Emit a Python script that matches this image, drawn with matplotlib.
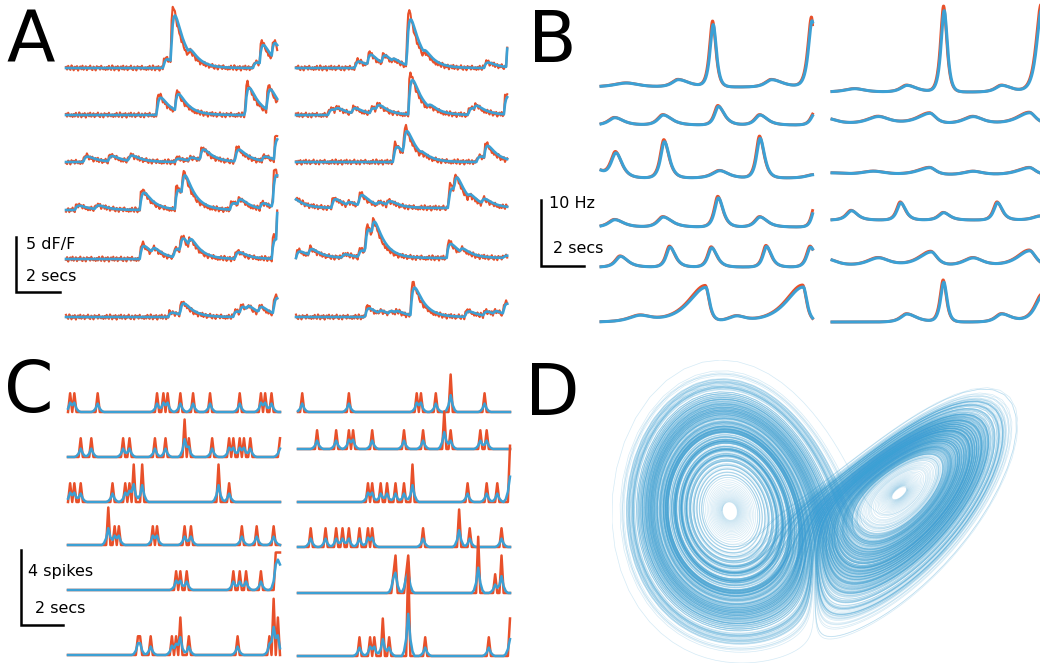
import numpy as np
import matplotlib
matplotlib.use('Agg')
import matplotlib.pyplot as plt
from matplotlib.collections import LineCollection

ORANGE = '#e8502a'
BLUE = '#3ca0d4'

# ---- panel A: calcium events per row, (time s, size dF/F) ----
a_left_events = [
    [(4.42, 0.8), (4.77, 4.4), (5.56, 0.5), (8.5, 0.5), (8.8, 1.8), (9.35, 1.5)],
    [(4.12, 1.6), (4.95, 1.6), (8.14, 2.5), (9.12, 2.0)],
    [(0.79, 0.5), (1.92, 0.5), (2.83, 0.5), (4.95, 0.3), (5.56, 0.3), (6.09, 1.0),
     (7.68, 1.1), (8.9, 0.4), (9.45, 1.9)],
    [(0.41, 0.4), (1.32, 0.35), (3.36, 1.6), (4.95, 1.8), (5.26, 2.0), (7.45, 0.6),
     (7.79, 0.6), (8.82, 0.5), (9.39, 3.0)],
    [(3.36, 1.2), (3.89, 0.5), (4.88, 0.8), (5.18, 1.3), (5.56, 0.8), (7.68, 0.6),
     (9.35, 1.8), (9.58, 2.5)],
    [(4.65, 0.4), (5.18, 1.1), (7.6, 0.5), (7.9, 0.6), (8.2, 0.4), (8.74, 0.6),
     (9.42, 1.5), (9.65, 3.0)],
]
a_right_events = [
    [(2.68, 0.6), (3.24, 1.0), (3.89, 0.8), (4.35, 0.3), (5.03, 4.3), (5.79, 0.4),
     (8.55, 0.5), (9.58, 1.7)],
    [(1.47, 0.5), (1.77, 0.3), (2.53, 0.5), (3.36, 0.5), (3.64, 0.5), (5.11, 3.2),
     (6.0, 0.3), (7.83, 0.6), (8.09, 0.4), (9.45, 1.6)],
    [(4.42, 1.4), (4.88, 2.2), (5.64, 0.2), (8.21, 0.5), (8.55, 1.2)],
    [(-0.3, 0.8), (1.62, 0.8), (2.3, 0.3), (2.83, 1.0), (3.67, 0.3), (4.12, 0.4),
     (6.92, 1.8), (7.18, 1.5), (7.83, 0.4), (8.44, 0.5)],
    [(0.0, 0.6), (0.56, 0.6), (2.08, 0.3), (2.83, 0.6), (3.14, 2.2), (3.44, 1.6),
     (6.85, 1.3), (7.45, 0.4), (9.42, 0.2)],
    [(3.14, 0.8), (3.74, 0.3), (4.2, 0.3), (4.5, 0.2), (5.21, 2.6), (7.68, 0.5),
     (8.52, 0.4), (8.97, 0.3), (9.42, 1.0), (9.65, 2.0)],
]
# measurement wiggle of the raw dF/F trace
a_jitter = [0.12, -0.18, 0.25, -0.05, -0.22, 0.3, 0.08, -0.27, 0.15, -0.1, 0.22,
            -0.3, 0.05, 0.18, -0.15, 0.27, -0.2, 0.02, 0.2, -0.25, 0.1, -0.08,
            0.28, -0.12, -0.24, 0.16, 0.04, -0.28, 0.21, -0.02, 0.13, -0.19,
            0.26, -0.07, -0.16, 0.09, -0.23]

# ---- panel B: firing-rate bumps per row, (time s, height Hz, rise s, fall s) ----
b_left_bumps = [
    [(1.19, 0.6, 0.5, 0.5), (3.6, 1.1, 0.25, 0.45), (5.22, 9.4, 0.13, 0.13),
     (7.94, 1.1, 0.25, 0.45), (9.82, 10.0, 0.15, 0.1)],
    [(0.65, 1.1, 0.25, 0.35), (2.9, 1.5, 0.22, 0.35), (5.46, 2.8, 0.15, 0.25),
     (7.4, 1.5, 0.2, 0.3), (9.95, 1.8, 0.15, 0.1)],
    [(-0.3, 1.5, 0.3, 0.3), (0.7, 3.7, 0.2, 0.25), (2.95, 5.5, 0.15, 0.2),
     (5.53, 1.1, 0.3, 0.35), (7.4, 6.0, 0.14, 0.18), (9.9, 0.5, 0.3, 0.3)],
    [(0.65, 1.1, 0.25, 0.35), (2.9, 1.5, 0.22, 0.35), (5.46, 4.4, 0.15, 0.2),
     (7.4, 1.5, 0.2, 0.3), (9.95, 2.9, 0.12, 0.1)],
    [(0.91, 1.6, 0.2, 0.3), (3.21, 3.0, 0.15, 0.22), (5.15, 2.9, 0.15, 0.22),
     (7.7, 3.1, 0.14, 0.2), (9.75, 3.0, 0.15, 0.2)],
    [(1.81, 0.9, 0.45, 0.45), (4.88, 5.2, 0.7, 0.15), (6.31, 0.8, 0.35, 0.35),
     (9.41, 5.3, 0.7, 0.15)],
]
b_right_bumps = [
    [(1.07, 0.5, 0.4, 0.4), (3.49, 1.0, 0.25, 0.4), (5.22, 12.3, 0.13, 0.13),
     (7.9, 1.0, 0.25, 0.4), (9.75, 12.5, 0.2, 0.1)],
    [(-0.2, 0.8, 0.4, 0.4), (2.16, 1.1, 0.45, 0.45), (4.56, 1.6, 0.5, 0.25),
     (6.57, 1.1, 0.4, 0.4), (9.2, 1.7, 0.5, 0.25)],
    [(0.0, 0.3, 0.5, 0.5), (1.94, 0.55, 0.5, 0.5), (4.56, 1.1, 0.5, 0.25),
     (6.57, 0.55, 0.4, 0.4), (9.2, 1.1, 0.5, 0.25)],
    [(0.91, 1.4, 0.2, 0.25), (3.2, 2.6, 0.15, 0.2), (5.2, 1.1, 0.2, 0.25),
     (7.7, 2.6, 0.15, 0.2), (9.7, 0.6, 0.3, 0.3)],
    [(-0.2, 1.0, 0.4, 0.4), (2.16, 1.2, 0.45, 0.45), (4.62, 2.1, 0.5, 0.25),
     (6.57, 1.2, 0.4, 0.4), (9.2, 2.3, 0.5, 0.25)],
    [(3.49, 1.2, 0.25, 0.4), (5.2, 6.0, 0.13, 0.13), (7.9, 1.2, 0.25, 0.4),
     (9.8, 4.0, 0.3, 0.15)],
]

# ---- panel C: spike times per row (s), repeated time = several spikes in a bin ----
c_left_spikes = [
    [0.08, 0.27, 1.42, 4.25, 4.49, 4.72, 5.35, 5.87, 6.66, 8.14, 9.13, 9.34, 9.56],
    [0.55, 1.15, 2.63, 2.88, 4.14, 4.65, 5.53, 5.53, 5.72, 6.82, 7.56, 7.76, 8.14,
     8.35, 8.58, 9.97],
    [0.08, 0.31, 0.63, 2.13, 2.72, 2.88, 3.15, 3.15, 3.54, 3.54, 7.09, 7.09, 7.64],
    [1.89, 1.89, 2.2, 2.44, 4.02, 4.25, 5.51, 5.83, 8.24, 8.87, 9.72],
    [5.12, 5.35, 5.59, 7.75, 8.14, 8.39, 9.06, 9.8, 9.8, 9.9, 9.9, 10.0, 10.0],
    [3.3, 3.4, 3.94, 4.93, 5.12, 5.35, 5.35, 5.72, 7.95, 9.53, 9.72, 9.72, 9.72,
     9.92, 9.92],
]
c_right_spikes = [
    [0.16, 2.44, 5.56, 5.75, 6.46, 7.24, 7.24, 8.77],
    [0.94, 1.84, 2.44, 2.63, 3.46, 4.96, 5.86, 6.93, 6.93, 7.24, 8.55, 8.87],
    [3.34, 3.54, 3.86, 4.25, 4.65, 5.04, 5.43, 5.43, 7.95, 8.87, 9.45, 9.97, 9.97,
     9.97],
    [0.55, 1.26, 1.84, 2.13, 2.36, 2.91, 3.26, 3.46, 5.87, 7.56, 7.56, 8.14, 9.56],
    [4.46, 4.65, 4.65, 5.09, 5.24, 5.24, 8.5, 8.5, 8.5, 9.29, 9.56, 9.56],
    [2.87, 3.35, 3.62, 4.05, 4.05, 4.33, 5.24, 5.24, 5.24, 5.24, 5.24, 5.95, 8.98,
     9.97, 9.97],
]
c_smooth = [0.05, 0.18, 0.45, 0.18, 0.05]

# ---- panel D: Lorenz system, start points and viewing angle ----
sigma, rho, beta = 10.0, 28.0, 8.0 / 3.0
d_starts = [[1.0, 1.0, 20.0], [9.3, 9.3, 27.0], [-9.3, -9.3, 27.0]]
d_steps = [60000, 3500, 3500]
view_azim, view_elev = 125, 35

# ---- layout (pixels of the 1040 x 663 figure) ----
W, H = 1040, 663
a_base_left = [68, 115, 162, 210, 259, 317]
a_base_right = [68, 115, 162, 208, 258, 317]
b_base_left = [87, 125, 178, 227, 267, 322]
b_base_right = [92, 124, 175, 220, 266, 322]
c_base_left = [412, 457, 502, 545, 590, 655]
c_base_right = [412, 449, 502, 547, 593, 656]

fig = plt.figure(figsize=(10.4, 6.63), dpi=100)


def trace_axes(x0, base, T, px_sec, px_unit):
    ax = fig.add_axes([x0 / W, 1 - base / H, T * px_sec / W, px_unit / H])
    ax.set_xlim(0, T)
    ax.set_ylim(0, 1)
    ax.axis('off')
    return ax


def scale_bar(x0, y0, px_sec, px_unit, height, ylabel, ytxt, xtxt):
    ax = trace_axes(x0, y0, 2, px_sec, px_unit)
    ax.plot([0, 0, 2], [height, 0, 0], color='black', lw=1.8, clip_on=False,
            solid_joinstyle='miter')
    ax.text(ytxt[0], ytxt[1], ylabel, fontsize=11.5, va='center', ha='left')
    ax.text(xtxt[0], xtxt[1], '2 secs', fontsize=11.5, va='center', ha='left')


# panel A
tA = np.arange(0, 9.65, 0.05)


def calcium(events, t, rise, decay):
    y = np.zeros_like(t)
    for te, amp in events:
        s = np.clip(t - te, 0, None)
        k = (1 - np.exp(-s / rise)) * np.exp(-s / decay)
        y += amp * k / k.max() if k.max() > 0 else 0
    return y


for col, (events, bases, x0) in enumerate([(a_left_events, a_base_left, 66),
                                           (a_right_events, a_base_right, 296)]):
    for r, ev in enumerate(events):
        ax = trace_axes(x0, bases[r], 9.64, 22, 10.8)
        fit = calcium(ev, tA, 0.12, 0.45)
        raw = 1.2 * calcium(ev, tA, 0.04, 0.42)
        raw += np.resize(np.roll(a_jitter, 7 * r + 17 * col), len(tA)) * 0.8
        ax.plot(tA, raw, color=ORANGE, lw=1.5, clip_on=False)
        ax.plot(tA, fit, color=BLUE, lw=1.9, clip_on=False)

scale_bar(16, 292, 22, 11, 5, '5 dF/F', (0.45, 4.3), (0.45, 1.4))

# panel B
tB = np.arange(0, 9.85, 0.02)


def rate(bumps, t, shift=0.0, gain=1.0):
    y = np.zeros_like(t)
    for t0, amp, wl, wr in bumps:
        w = np.where(t < t0 + shift, wl, wr)
        y += gain * amp / np.cosh((t - t0 - shift) / w)
    return y


for bumps, bases, x0 in [(b_left_bumps, b_base_left, 601),
                         (b_right_bumps, b_base_right, 832)]:
    for r, bp in enumerate(bumps):
        ax = trace_axes(x0, bases[r], 9.84, 21.5, 6.6)
        ax.plot(tB, rate(bp, tB, -0.03, 1.06), color=ORANGE, lw=2.0, clip_on=False)
        ax.plot(tB, rate(bp, tB), color=BLUE, lw=2.2, clip_on=False)

scale_bar(541, 266, 21.5, 6.6, 10, '10 Hz', (0.37, 9.5), (0.56, 2.6))

# panel C
tC = np.arange(0, 10.01, 0.1)
for spikes, bases, x0 in [(c_left_spikes, c_base_left, 68),
                          (c_right_spikes, c_base_right, 298)]:
    for r, sp in enumerate(spikes):
        ax = trace_axes(x0, bases[r], 10, 21.2, 18.75)
        counts = np.bincount(np.round(np.array(sp) / 0.1).astype(int),
                             minlength=len(tC))[:len(tC)].astype(float)
        smooth = np.convolve(counts, c_smooth, mode='same')
        ax.plot(tC, counts, color=ORANGE, lw=1.8, clip_on=False)
        ax.plot(tC, smooth, color=BLUE, lw=1.8, clip_on=False)

scale_bar(21, 625, 21, 18.75, 4, '4 spikes', (0.33, 2.83), (0.67, 0.9))


# panel D: integrate the Lorenz system (RK4) and look at it from one angle
def lorenz(P):
    return np.stack([sigma * (P[:, 1] - P[:, 0]),
                     P[:, 0] * (rho - P[:, 2]) - P[:, 1],
                     P[:, 0] * P[:, 1] - beta * P[:, 2]], axis=1)


dt = 0.01
P = np.array(d_starts)
path = np.empty((max(d_steps), len(d_starts), 3))
for i in range(max(d_steps)):
    k1 = lorenz(P)
    k2 = lorenz(P + dt / 2 * k1)
    k3 = lorenz(P + dt / 2 * k2)
    k4 = lorenz(P + dt * k3)
    P = P + dt / 6 * (k1 + 2 * k2 + 2 * k3 + k4)
    path[i] = P

f, e = np.radians(view_azim), np.radians(view_elev)
axD = fig.add_axes([612 / W, 1 - 663 / H, (1018 - 612) / W, (663 - 360) / H])
hmin, hmax, vmin, vmax = np.inf, -np.inf, np.inf, -np.inf
for j, n in enumerate(d_steps):
    x, y, z = path[300 if j == 0 else 0:n, j].T
    h = -x * np.sin(f) + y * np.cos(f)
    v = -x * np.cos(f) * np.sin(e) - y * np.sin(f) * np.sin(e) + z * np.cos(e)
    segs = np.stack([np.column_stack([h[:-1], v[:-1]]),
                     np.column_stack([h[1:], v[1:]])], axis=1)
    axD.add_collection(LineCollection(segs, colors=BLUE, lw=0.5, alpha=0.22))
    if j == 0:
        hmin, hmax, vmin, vmax = h.min(), h.max(), v.min(), v.max()
axD.set_xlim(hmin, hmax)
axD.set_ylim(vmin, vmax)
axD.axis('off')

# panel letters
for letter, lx, ly in [('A', 6, 62), ('B', 528, 62), ('C', 4, 412), ('D', 525, 415)]:
    fig.text(lx / W, 1 - ly / H, letter, fontsize=51, ha='left', va='baseline')

fig.savefig('out.png', dpi=100)
